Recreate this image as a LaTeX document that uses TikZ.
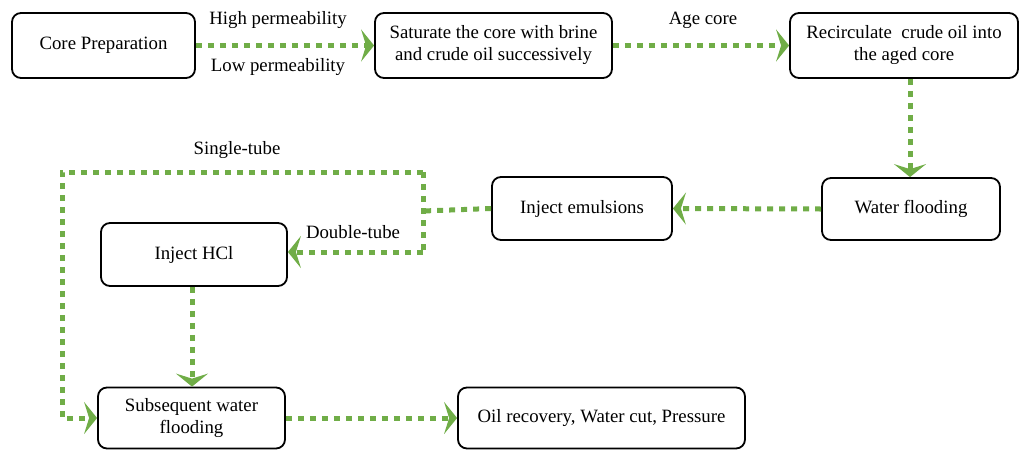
\documentclass[tikz,border=0pt]{standalone}
\usepackage{fontspec}
\setmainfont{Liberation Serif}
\usetikzlibrary{arrows.meta}
\definecolor{flowgreen}{RGB}{112,173,71}
\begin{document}
\begin{tikzpicture}[x=1pt,y=-1pt,
  box/.style={draw=black, line width=1.8pt, rounded corners=9pt, align=center, font=\fontsize{18.8}{22}\selectfont, inner sep=2pt},
  flow/.style={draw=flowgreen, line width=5pt, dash pattern=on 6pt off 6pt, -{Stealth[length=13pt,width=32pt,inset=5pt]}},
  flowline/.style={draw=flowgreen, line width=5pt, dash pattern=on 6pt off 6pt},
  lbl/.style={font=\fontsize{18.8}{22}\selectfont}]
\useasboundingbox (0,0) rectangle (1024,450);
\node[box, minimum width=183pt, minimum height=65pt] (core) at (103.5,45.5) {Core Preparation};
\node[box, minimum width=237pt, minimum height=65pt] (sat) at (493.5,45.5) {Saturate the core with brine\\and crude oil successively};
\node[box, minimum width=228pt, minimum height=65pt] (rec) at (904,45.5) {Recirculate\ \ crude oil into\\the aged core};
\node[box, minimum width=178pt, minimum height=62pt] (wf) at (911,209) {Water flooding};
\node[box, minimum width=180pt, minimum height=63pt] (emul) at (582,208.5) {Inject emulsions};
\node[box, minimum width=186pt, minimum height=63pt] (hcl) at (194,254.5) {Inject HCl};
\node[box, minimum width=187pt, minimum height=61pt] (sub) at (191.5,418) {Subsequent water\\flooding};
\node[box, minimum width=287pt, minimum height=61pt] (oil) at (601.5,418) {Oil recovery, Water cut, Pressure};

\coordinate (jt) at (423,172);
\coordinate (jb) at (423,252);
\coordinate (jm) at (423,211);
\coordinate (lc) at (62,172);

\draw[flow] (core.east) -- (sat.west);
\draw[flow] (sat.east) -- (rec.west);
\draw[flow] (rec.south -| 910,0) -- (wf.north -| 910,0);
\draw[flow] (wf.west) -- (emul.east);
\draw[flowline] (emul.west) -- (jm);
\draw[flowline] (jt) -- (jb);
\draw[flow] (jt) -- (lc) |- (sub.west);
\draw[flow] (jb) -- (hcl.east |- jb);
\draw[flow] (hcl.south -| 192,0) -- (sub.north -| 192,0);
\draw[flow] (sub.east) -- (oil.west);

\node[lbl] (hp) at (278,20) {High permeability};
\node[lbl] (lp) at (278,67) {Low permeability};
\node[lbl] (ac) at (703,20) {Age core};
\node[lbl] (st) at (237,150) {Single-tube};
\node[lbl] (dt) at (353,232) {Double-tube};
\end{tikzpicture}
\end{document}
